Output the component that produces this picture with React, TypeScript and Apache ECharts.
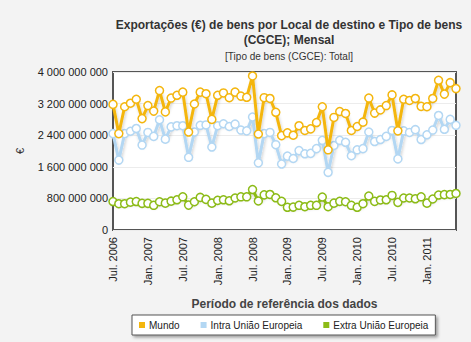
import React, { useEffect, useRef } from "react";
import * as echarts from "echarts";

const categories: string[] = [
  "Jul. 2006", "Ago. 2006", "Set. 2006", "Out. 2006", "Nov. 2006", "Dez. 2006",
  "Jan. 2007", "Fev. 2007", "Mar. 2007", "Abr. 2007", "Mai. 2007", "Jun. 2007",
  "Jul. 2007", "Ago. 2007", "Set. 2007", "Out. 2007", "Nov. 2007", "Dez. 2007",
  "Jan. 2008", "Fev. 2008", "Mar. 2008", "Abr. 2008", "Mai. 2008", "Jun. 2008",
  "Jul. 2008", "Ago. 2008", "Set. 2008", "Out. 2008", "Nov. 2008", "Dez. 2008",
  "Jan. 2009", "Fev. 2009", "Mar. 2009", "Abr. 2009", "Mai. 2009", "Jun. 2009",
  "Jul. 2009", "Ago. 2009", "Set. 2009", "Out. 2009", "Nov. 2009", "Dez. 2009",
  "Jan. 2010", "Fev. 2010", "Mar. 2010", "Abr. 2010", "Mai. 2010", "Jun. 2010",
  "Jul. 2010", "Ago. 2010", "Set. 2010", "Out. 2010", "Nov. 2010", "Dez. 2010",
  "Jan. 2011", "Fev. 2011", "Mar. 2011", "Abr. 2011", "Mai. 2011", "Jun. 2011",
];

const mundo: number[] = [
  3180e6, 2440e6, 3120e6, 3210e6, 3310e6, 2820e6, 3150e6, 3010e6, 3530e6, 2990e6, 3340e6, 3410e6,
  3490e6, 2480e6, 3190e6, 3490e6, 3450e6, 2800e6, 3410e6, 3470e6, 3350e6, 3490e6, 3390e6, 3360e6,
  3900e6, 2430e6, 3350e6, 3330e6, 2980e6, 2390e6, 2460e6, 2400e6, 2640e6, 2520e6, 2560e6, 2720e6,
  3120e6, 2030e6, 2850e6, 3000e6, 2950e6, 2520e6, 2620e6, 2730e6, 3340e6, 2960e6, 3040e6, 3150e6,
  3420e6, 2510e6, 3310e6, 3280e6, 3330e6, 3130e6, 3120e6, 3330e6, 3790e6, 3440e6, 3730e6, 3580e6,
];

const intraUE: number[] = [
  2440e6, 1770e6, 2440e6, 2500e6, 2570e6, 2150e6, 2470e6, 2370e6, 2790e6, 2300e6, 2610e6, 2640e6,
  2640e6, 1840e6, 2480e6, 2650e6, 2660e6, 2100e6, 2640e6, 2690e6, 2620e6, 2680e6, 2530e6, 2510e6,
  2860e6, 1700e6, 2440e6, 2470e6, 2160e6, 1670e6, 1870e6, 1810e6, 2010e6, 1930e6, 1940e6, 2060e6,
  2270e6, 1460e6, 2140e6, 2270e6, 2220e6, 1880e6, 2030e6, 2060e6, 2480e6, 2240e6, 2290e6, 2370e6,
  2520e6, 1800e6, 2510e6, 2470e6, 2540e6, 2290e6, 2410e6, 2530e6, 2900e6, 2550e6, 2800e6, 2650e6,
];

const extraUE: number[] = [
  720e6, 665e6, 665e6, 705e6, 720e6, 675e6, 675e6, 625e6, 715e6, 680e6, 730e6, 765e6,
  840e6, 630e6, 715e6, 825e6, 775e6, 680e6, 750e6, 765e6, 740e6, 810e6, 840e6, 840e6,
  1025e6, 735e6, 890e6, 900e6, 815e6, 725e6, 575e6, 580e6, 625e6, 590e6, 625e6, 625e6,
  835e6, 590e6, 680e6, 725e6, 715e6, 625e6, 575e6, 665e6, 860e6, 725e6, 760e6, 765e6,
  875e6, 700e6, 810e6, 810e6, 790e6, 840e6, 680e6, 785e6, 885e6, 895e6, 900e6, 925e6,
];

const seriesNames = ["Mundo", "Intra União Europeia", "Extra União Europeia"];
const seriesColors = ["#f4b60e", "#b3d7f3", "#8cbb17"];

const FONT = "'Liberation Sans', Arial, sans-serif";

function fmt(v: number): string {
  return String(Math.round(v)).replace(/\B(?=(\d{3})+(?!\d))/g, " ");
}

export default function App() {
  const ref = useRef<HTMLDivElement>(null);

  useEffect(() => {
    if (!ref.current) return;
    const chart = echarts.init(ref.current, null, { renderer: "svg" });
    const datasets = [mundo, intraUE, extraUE];
    chart.setOption({
      animation: false,
      backgroundColor: "#f3f3f3",
      textStyle: { fontFamily: FONT },
      title: {
        text: "Exportações (€) de bens por Local de destino e Tipo de bens\n(CGCE); Mensal",
        subtext: "[Tipo de bens (CGCE): Total]",
        left: 284,
        top: 12,
        textAlign: "center",
        itemGap: 4,
        textStyle: { fontFamily: FONT, fontSize: 12, fontWeight: "bold", color: "#333", lineHeight: 15 },
        subtextStyle: { fontFamily: FONT, fontSize: 10, color: "#333" },
      },
      legend: {
        left: 132,
        top: 315,
        backgroundColor: "#fff",
        borderColor: "#555",
        borderWidth: 1,
        padding: [5, 7, 5, 7],
        itemGap: 21,
        itemWidth: 6,
        itemHeight: 6,
        icon: "rect",
        shadowColor: "rgba(0,0,0,0.35)",
        shadowBlur: 3,
        shadowOffsetX: 2,
        shadowOffsetY: 2,
        textStyle: { fontFamily: FONT, fontSize: 10, color: "#222", padding: [0, 0, 0, -1] },
        data: seriesNames.map((n, i) => ({
          name: n,
          itemStyle: { color: seriesColors[i], borderWidth: 0 },
        })),
      },
      grid: {
        left: 113,
        right: 15,
        top: 72,
        bottom: 112,
        show: true,
        backgroundColor: "#fff",
        borderColor: "#555",
        borderWidth: 2,
      },
      xAxis: {
        type: "category",
        data: categories,
        boundaryGap: false,
        name: "Período de referência dos dados",
        nameLocation: "middle",
        nameGap: 68,
        nameTextStyle: { fontFamily: FONT, fontSize: 12, fontWeight: "bold", color: "#444" },
        axisLine: { show: false },
        axisTick: { show: false },
        axisLabel: {
          interval: 5,
          rotate: 90,
          margin: 7,
          fontFamily: FONT,
          fontSize: 11,
          color: "#222",
        },
        splitLine: { show: false },
      },
      yAxis: {
        type: "value",
        min: 0,
        max: 4000000000,
        interval: 800000000,
        name: "€",
        nameLocation: "middle",
        nameGap: 88,
        nameRotate: 90,
        nameTextStyle: { fontFamily: FONT, fontSize: 11, color: "#333" },
        axisLine: { show: false },
        axisTick: { show: false },
        axisLabel: {
          margin: 5,
          fontFamily: FONT,
          fontSize: 11,
          color: "#222",
          formatter: (v: number) => fmt(v),
        },
        splitLine: { show: true, lineStyle: { color: "#ececec", width: 1 } },
      },
      series: seriesNames.map((n, i) => ({
        name: n,
        type: "line",
        data: datasets[i],
        symbol: "circle",
        symbolSize: 8,
        showAllSymbol: true,
        z: 3 - i,
        lineStyle: {
          color: seriesColors[i],
          width: 3,
          shadowColor: "rgba(0,0,0,0.18)",
          shadowBlur: 3,
          shadowOffsetX: 1,
          shadowOffsetY: 2,
        },
        itemStyle: {
          color: "#fff",
          borderColor: seriesColors[i],
          borderWidth: 1.5,
        },
        emphasis: { disabled: true },
      })),
    });
    return () => chart.dispose();
  }, []);

  return (
    <div
      ref={ref}
      style={{ position: "fixed", left: 0, top: 0, width: 471, height: 342 }}
    />
  );
}
